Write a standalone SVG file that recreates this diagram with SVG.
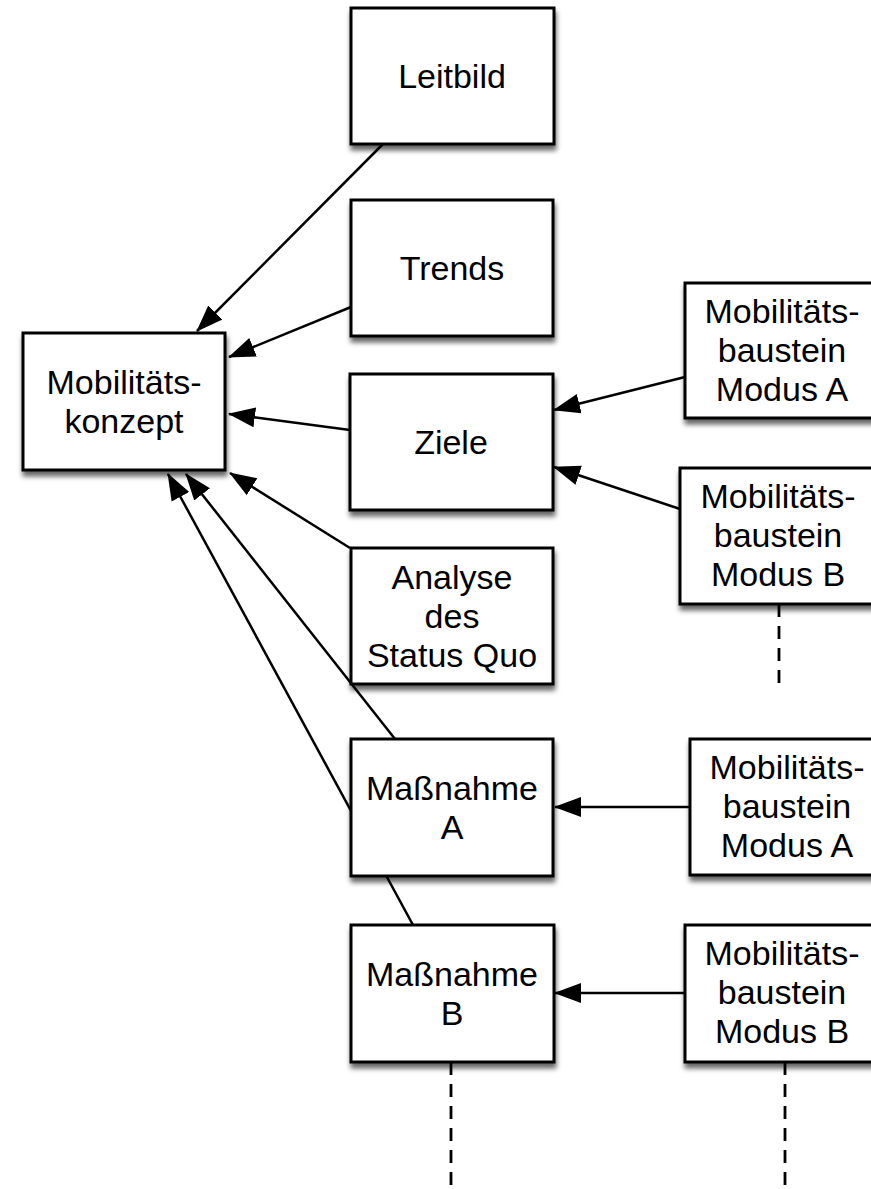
<svg xmlns="http://www.w3.org/2000/svg" width="871" height="1189" viewBox="0 0 871 1189">
  <style>
    .box { fill: #ffffff; stroke: #000000; stroke-width: 3; filter: url(#shadow); }
    .label { font-family: "Liberation Sans", Arial, Helvetica, sans-serif; font-size: 34px; fill: #000000; text-anchor: middle; }
    .edge { fill: none; stroke: #000000; stroke-width: 2.5; marker-end: url(#arrow); }
    .dash { fill: none; stroke: #000000; stroke-width: 2.8; stroke-dasharray: 13 9; }
  </style>
  <defs>
    <filter id="shadow" x="-10%" y="-10%" width="125%" height="130%">
      <feDropShadow dx="1" dy="5" stdDeviation="2.5" flood-color="#000000" flood-opacity="0.6"/>
    </filter>
    <marker id="arrow" markerUnits="userSpaceOnUse" markerWidth="27" markerHeight="22" viewBox="0 0 27 22" refX="26" refY="11" orient="auto">
      <path d="M0,1 L27,11 L0,21 Z" fill="#000000"/>
    </marker>
  </defs>

  <rect width="871" height="1189" fill="#ffffff"/>

  <!-- connectors (drawn first so the boxes cover crossing lines) -->
  <g id="connectors">
    <line class="edge" x1="383" y1="144" x2="197" y2="331"/>
    <line class="edge" x1="351" y1="307" x2="229" y2="357"/>
    <line class="edge" x1="350" y1="430" x2="229" y2="414"/>
    <line class="edge" x1="350" y1="548" x2="230" y2="473"/>
    <line class="edge" x1="395" y1="739" x2="186" y2="474"/>
    <line class="edge" x1="413" y1="925" x2="168" y2="474"/>
    <line class="edge" x1="685" y1="377" x2="554" y2="410"/>
    <line class="edge" x1="680" y1="509" x2="554" y2="467"/>
    <line class="edge" x1="690" y1="807" x2="555" y2="807"/>
    <line class="edge" x1="685" y1="993" x2="555" y2="993"/>
    <line class="dash" x1="779" y1="604" x2="779" y2="688"/>
    <line class="dash" x1="451" y1="1062" x2="451" y2="1189"/>
    <line class="dash" x1="785" y1="1062" x2="785" y2="1189"/>
  </g>

  <g id="mobilitaetskonzept">
    <rect class="box" x="23" y="333" width="202" height="137"/>
    <text class="label" x="124" y="394">Mobilitäts-</text>
    <text class="label" x="124" y="433">konzept</text>
  </g>

  <g id="leitbild">
    <rect class="box" x="351" y="8" width="203" height="136"/>
    <text class="label" x="452" y="88">Leitbild</text>
  </g>

  <g id="trends">
    <rect class="box" x="351" y="200" width="202" height="136"/>
    <text class="label" x="452" y="280">Trends</text>
  </g>

  <g id="ziele">
    <rect class="box" x="350" y="374" width="203" height="136"/>
    <text class="label" x="451" y="454">Ziele</text>
  </g>

  <g id="analyse">
    <rect class="box" x="351" y="548" width="202" height="136"/>
    <text class="label" x="452" y="589">Analyse</text>
    <text class="label" x="452" y="628">des</text>
    <text class="label" x="452" y="667">Status Quo</text>
  </g>

  <g id="massnahme-a">
    <rect class="box" x="351" y="739" width="202" height="137"/>
    <text class="label" x="452" y="800">Maßnahme</text>
    <text class="label" x="452" y="839">A</text>
  </g>

  <g id="massnahme-b">
    <rect class="box" x="351" y="925" width="203" height="137"/>
    <text class="label" x="452" y="986">Maßnahme</text>
    <text class="label" x="452" y="1025">B</text>
  </g>

  <g id="baustein-ziele-a">
    <rect class="box" x="685" y="283" width="200" height="135"/>
    <text class="label" x="782" y="323">Mobilitäts-</text>
    <text class="label" x="782" y="362">baustein</text>
    <text class="label" x="782" y="401">Modus A</text>
  </g>

  <g id="baustein-ziele-b">
    <rect class="box" x="680" y="468" width="200" height="136"/>
    <text class="label" x="778" y="508">Mobilitäts-</text>
    <text class="label" x="778" y="547">baustein</text>
    <text class="label" x="778" y="586">Modus B</text>
  </g>

  <g id="baustein-massnahme-a">
    <rect class="box" x="690" y="739" width="200" height="136"/>
    <text class="label" x="787" y="779">Mobilitäts-</text>
    <text class="label" x="787" y="818">baustein</text>
    <text class="label" x="787" y="857">Modus A</text>
  </g>

  <g id="baustein-massnahme-b">
    <rect class="box" x="685" y="925" width="200" height="137"/>
    <text class="label" x="782" y="965">Mobilitäts-</text>
    <text class="label" x="782" y="1004">baustein</text>
    <text class="label" x="782" y="1043">Modus B</text>
  </g>
</svg>
